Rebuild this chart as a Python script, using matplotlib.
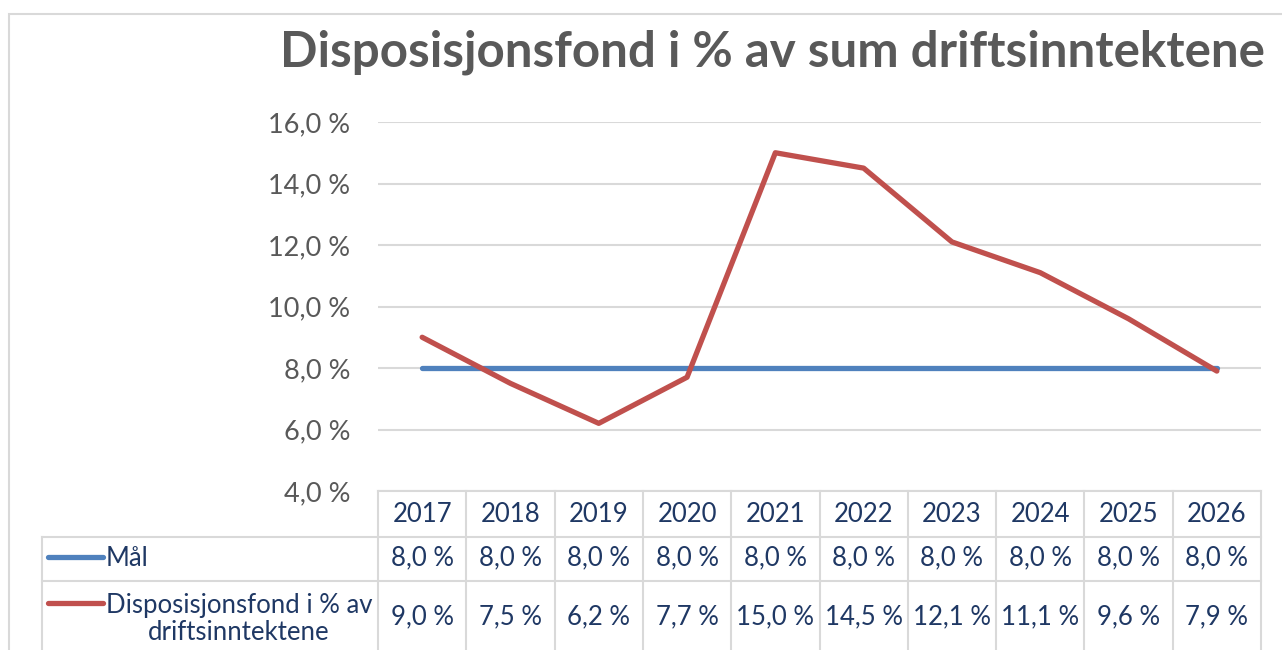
import matplotlib.pyplot as plt
from matplotlib.transforms import blended_transform_factory
from matplotlib.patches import Rectangle

plt.rcParams['font.family'] = ['Lato', 'DejaVu Sans']

years = ['2017', '2018', '2019', '2020', '2021', '2022', '2023', '2024', '2025', '2026']
maal = [8.0, 8.0, 8.0, 8.0, 8.0, 8.0, 8.0, 8.0, 8.0, 8.0]
disp = [9.0, 7.5, 6.2, 7.7, 15.0, 14.5, 12.1, 11.1, 9.6, 7.9]
series_names = ['Mål', 'Disposisjonsfond i % av\ndriftsinntektene']
title = 'Disposisjonsfond i % av sum driftsinntektene'

blue = '#4F81BD'
red = '#C0504D'
grid_col = '#D9D9D9'
tick_col = '#595959'
table_col = '#1F3864'

W, H = 1282, 650
fig = plt.figure(figsize=(W / 100, H / 100), dpi=100)

# plot area in pixels
px_left, px_right, px_top, px_bottom = 378, 1261, 122, 491
ax = fig.add_axes([px_left / W, 1 - px_bottom / H, (px_right - px_left) / W, (px_bottom - px_top) / H])

x = list(range(len(years)))
ax.plot(x, maal, color=blue, lw=3.8, solid_capstyle='round', zorder=3)
ax.plot(x, disp, color=red, lw=3.8, solid_capstyle='round', solid_joinstyle='round', zorder=4)

ax.set_xlim(-0.5, len(years) - 0.5)
ax.set_ylim(4, 16)
ax.set_yticks([4, 6, 8, 10, 12, 14, 16])
ax.set_yticklabels([f'{v:.1f} %'.replace('.', ',') for v in ax.get_yticks()])
ax.tick_params(axis='y', length=0, pad=20, labelsize=19.5, labelcolor=tick_col)
ax.set_xticks([])
ax.grid(axis='y', color=grid_col, lw=1.5)
ax.set_axisbelow(True)
for s in ax.spines.values():
    s.set_visible(False)

fig.text(772 / W, 1 - 52 / H, title, ha='center', va='center', fontsize=35.5,
         fontweight='bold', color=tick_col)

# outer chart border
fig.patches.append(Rectangle((9 / W, -0.1), 1.2, 1 - 14 / H + 0.1, transform=fig.transFigure,
                             fill=False, edgecolor=grid_col, lw=1.5))

# data table below the plot
tr = blended_transform_factory(ax.transData, fig.transFigure)
unit = (px_right - px_left) / len(years)
def px2x(px):
    return -0.5 - (px_left - px) / unit
def py(p):
    return 1 - p / H

lkw = dict(color=grid_col, lw=1.5, transform=tr, clip_on=False)
ax.plot([-0.5, 9.5], [py(491)] * 2, **lkw)
for r in [537, 581]:
    ax.plot([px2x(42), 9.5], [py(r)] * 2, **lkw)
for i in range(len(years) + 1):
    ax.plot([i - 0.5, i - 0.5], [py(491), py(652)], **lkw)
ax.plot([px2x(42)] * 2, [py(537), py(652)], **lkw)

fs = 18.5
tkw = dict(transform=tr, ha='center', va='center', color=table_col, fontsize=fs, clip_on=False)
for i, yr in enumerate(years):
    ax.text(i, py(514), yr, **tkw)
    ax.text(i, py(558), f'{maal[i]:.1f} %'.replace('.', ','), **tkw)
    ax.text(i, py(617), f'{disp[i]:.1f} %'.replace('.', ','), **tkw)

# legend keys inside the table
ax.plot([px2x(48), px2x(103)], [py(557)] * 2, color=blue, lw=3.8, solid_capstyle='round',
        transform=tr, clip_on=False)
ax.plot([px2x(48), px2x(103)], [py(603)] * 2, color=red, lw=3.8, solid_capstyle='round',
        transform=tr, clip_on=False)
ax.text(px2x(106), py(558), series_names[0], transform=tr, ha='left', va='center',
        color=table_col, fontsize=fs, clip_on=False)
ax.text(px2x(239), py(619), series_names[1], transform=tr, ha='center', va='center',
        multialignment='center', color=table_col, fontsize=fs, linespacing=1.05, clip_on=False)

fig.savefig('out.png', dpi=100)
